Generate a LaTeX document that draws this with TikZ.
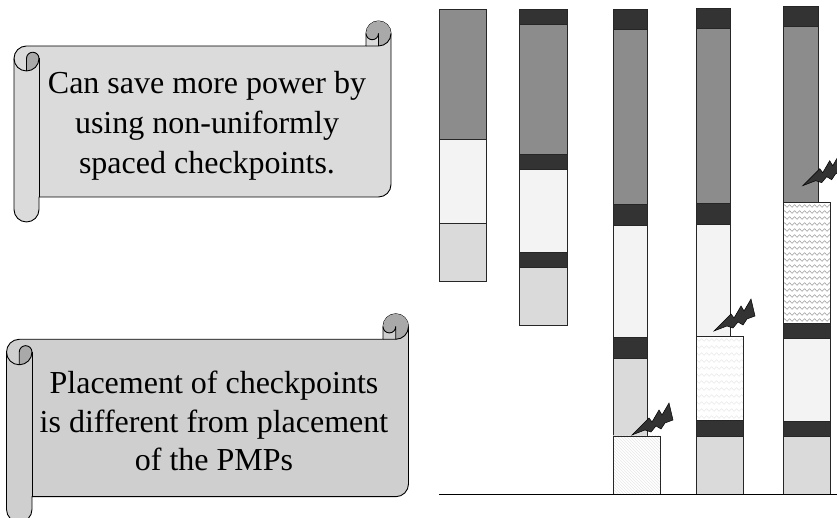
\documentclass[tikz,border=0pt]{standalone}
\usepackage{fontspec}
\setmainfont{Liberation Serif}
\usetikzlibrary{patterns, decorations.pathmorphing}

\definecolor{runhi}{HTML}{8C8C8C}
\definecolor{ckpt}{HTML}{333333}
\definecolor{runlo}{HTML}{F3F3F3}
\definecolor{slack}{HTML}{DADADA}
\definecolor{curl}{HTML}{A9A9A9}

% rolled banner: left, bottom, right, top, curl size, sheet colour
\newcommand{\scrollbanner}[6]{%
	\pgfmathsetmacro{\hc}{#5/2}\pgfmathsetmacro{\qc}{#5/4}
	\filldraw[scrollline, fill=#6] (#1,#4-1.5*#5) arc[start angle=180, end angle=90, radius=\hc] -- (#3-#5,#4-#5) -- (#3-#5,#4-\hc) arc[start angle=180, end angle=0, radius=\hc] -- (#3,#2+1.5*#5) arc[start angle=0, end angle=-90, radius=\hc] -- (#1+#5,#2+#5) -- (#1+#5,#2+\hc) arc[start angle=0, end angle=-180, radius=\hc] -- cycle;
	\fill[curl] (#1+\hc,#4-2*#5) arc[start angle=-90, end angle=0, radius=\hc] arc[start angle=0, end angle=180, radius=\qc] -- cycle;
	\fill[curl] (#3-\hc,#4-#5) arc[start angle=-90, end angle=180, radius=\hc] arc[start angle=180, end angle=360, radius=\qc] -- cycle;
	\draw[scrollline] (#1+\hc,#4-2*#5) -- (#1+\hc,#4-1.5*#5) arc[start angle=180, end angle=0, radius=\qc] arc[start angle=0, end angle=-180, radius=\hc];
	\draw[scrollline] (#1+#5,#4-1.5*#5) -- (#1+#5,#2+#5);
	\draw[scrollline] (#3-#5,#4-#5) -- (#3-\hc,#4-#5) arc[start angle=-90, end angle=0, radius=\hc];
	\draw[scrollline] (#3-\hc,#4-#5) -- (#3-\hc,#4-\hc) arc[start angle=0, end angle=-180, radius=\qc];
}

% fault strike, tip at (#1,#2)
\newcommand{\bolt}[2]{%
	\filldraw[boltstyle, shift={(#1,#2)}] (0,0) -- (17,17) -- (20,13) -- (27,25) -- (30,20) -- (37,32) -- (41,15) -- (33,12) -- (29,6) -- (24,9) -- (19,3) -- (13,5) -- cycle;
}

\begin{document}
\begin{tikzpicture}[x=1pt, y=1pt]
	\tikzstyle{scrollline} = [draw=black, line width=0.9pt, line join=round]
	\tikzstyle{scrolltext} = [align=center, font=\fontsize{32}{40}\selectfont]
	\tikzstyle{seg} = [draw=black!85, line width=0.9pt]
	\tikzstyle{boltstyle} = [fill=ckpt, draw=black, line width=0.5pt, line join=miter]
	\tikzstyle{wave} = [decorate, decoration={snake, segment length=5pt, amplitude=1.3pt}, line width=0.6pt]
	\useasboundingbox (0,0) rectangle (837,518);

	% the two banners
	\scrollbanner{14}{296}{391}{497}{25}{black!14}
	\node[scrolltext] (savetext) at (207,392.5) {Can save more power by\\using non-uniformly\\spaced checkpoints.};
	\scrollbanner{6.5}{-4.2}{408.5}{204.2}{25.5}{black!19}
	\node[scrolltext, font=\fontsize{32}{38.5}\selectfont] (placetext) at (214,97) {Placement of checkpoints\\is different from placement\\of the PMPs};

	% bar 1, no checkpoints
	\filldraw[seg, fill=runhi] (439,379) rectangle (486,508.5); \filldraw[seg, fill=runlo] (439,295) rectangle (486,379); \filldraw[seg, fill=slack] (439,237) rectangle (486,295);

	% bar 2
	\filldraw[seg, fill=ckpt] (519,493.5) rectangle (567,508.5); \filldraw[seg, fill=runhi] (519,364) rectangle (567,493.5); \filldraw[seg, fill=ckpt] (519,348.5) rectangle (567,364);
	\filldraw[seg, fill=runlo] (519,266) rectangle (567,348.5); \filldraw[seg, fill=ckpt] (519,250.5) rectangle (567,266); \filldraw[seg, fill=slack] (519,192.3) rectangle (567,250.5);

	% bar 3, fault near the end
	\filldraw[seg, fill=ckpt] (613,488.3) rectangle (647,508.5); \filldraw[seg, fill=runhi] (613,313.3) rectangle (647,488.3); \filldraw[seg, fill=ckpt] (613,292.3) rectangle (647,313.3);
	\filldraw[seg, fill=runlo] (613,180.7) rectangle (647,292.3); \filldraw[seg, fill=ckpt] (613,160) rectangle (647,180.7); \filldraw[seg, fill=slack] (613,82) rectangle (647,160);
	\filldraw[seg, fill=white] (613,23.7) rectangle (660,82);
	\fill[pattern=north west lines, pattern color=black!9] (613,23.7) rectangle (660,82);
	\draw[seg] (613,23.7) rectangle (660,82);

	% bar 4, fault in the middle
	\filldraw[seg, fill=ckpt] (696,489.3) rectangle (730,509.7); \filldraw[seg, fill=runhi] (696,314.3) rectangle (730,489.3); \filldraw[seg, fill=ckpt] (696,293.7) rectangle (730,314.3);
	\filldraw[seg, fill=runlo] (696,181.3) rectangle (730,293.7);
	\filldraw[seg, fill=white] (696,98) rectangle (743,181.3);
	\begin{scope} \clip (696,98) rectangle (743,181.3);
		\foreach \yy in {101,108,...,181} \draw[wave, black!8] (690,\yy) -- (750,\yy);
	\end{scope}
	\draw[seg] (696,98) rectangle (743,181.3);
	\filldraw[seg, fill=ckpt] (696,82) rectangle (743,98); \filldraw[seg, fill=slack] (696,23.7) rectangle (743,82);

	% bar 5, early fault
	\filldraw[seg, fill=ckpt] (783,491.3) rectangle (818,511.7); \filldraw[seg, fill=runhi] (783,316) rectangle (818,491.3);
	\filldraw[seg, fill=white] (783,195) rectangle (830,316);
	\begin{scope} \clip (783,195) rectangle (830,316);
		\foreach \yy in {198,204,...,316} \draw[wave, black!35] (778,\yy) -- (836,\yy);
	\end{scope}
	\draw[seg] (783,195) rectangle (830,316);
	\filldraw[seg, fill=ckpt] (783,180) rectangle (830,195); \filldraw[seg, fill=runlo] (783,97) rectangle (830,180);
	\filldraw[seg, fill=ckpt] (783,82) rectangle (830,97); \filldraw[seg, fill=slack] (783,23.7) rectangle (830,82);

	% faults
	\bolt{632}{83} \bolt{714}{187} \bolt{802.7}{332.3}

	% time axis
	\draw[line width=0.9pt] (439,23.7) -- (837,23.7);
\end{tikzpicture}
\end{document}
